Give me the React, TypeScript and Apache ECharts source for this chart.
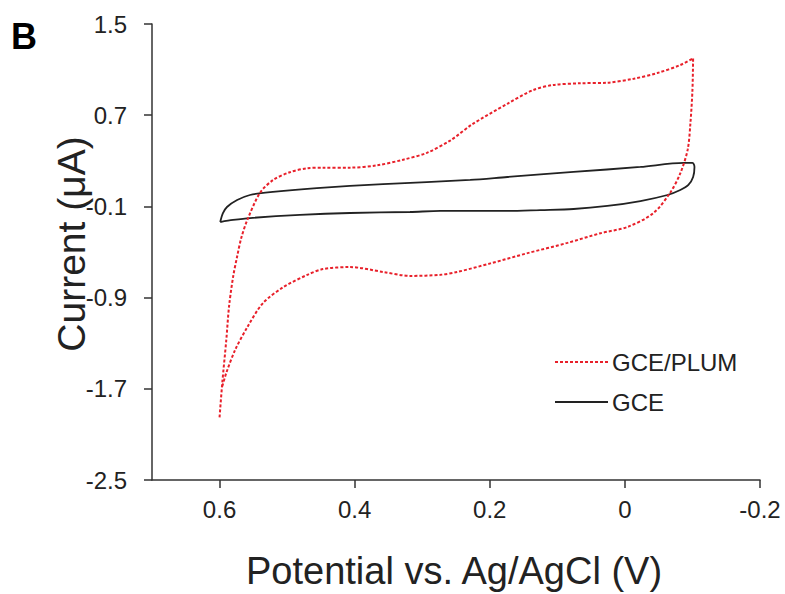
import React, { useEffect, useRef } from "react";
import * as echarts from "echarts";

// GCE/PLUM cyclic voltammogram (x: potential V, y: current µA)
const plumCurve: [number, number][] = [
  [0.6, -1.95], [0.596, -1.65], [0.59, -1.27], [0.586, -0.98], [0.58, -0.72],
  [0.574, -0.54], [0.568, -0.38], [0.559, -0.22], [0.54, 0.02], [0.521, 0.13],
  [0.496, 0.2], [0.47, 0.235], [0.447, 0.24], [0.407, 0.24], [0.367, 0.26],
  [0.328, 0.31], [0.293, 0.37], [0.258, 0.48], [0.226, 0.62], [0.174, 0.8],
  [0.136, 0.92], [0.106, 0.965], [0.066, 0.98], [0.026, 0.985], [-0.013, 1.02],
  [-0.048, 1.07], [-0.082, 1.14], [-0.101, 1.2],
  [-0.1, 0.92], [-0.097, 0.63], [-0.093, 0.4], [-0.082, 0.19], [-0.067, 0.02],
  [-0.042, -0.16], [-0.004, -0.28], [0.036, -0.335], [0.085, -0.42], [0.144, -0.51],
  [0.199, -0.6], [0.248, -0.675], [0.273, -0.7], [0.318, -0.71], [0.358, -0.675],
  [0.407, -0.632], [0.447, -0.65], [0.47, -0.7], [0.506, -0.81], [0.536, -0.95],
  [0.559, -1.16], [0.577, -1.36], [0.59, -1.56], [0.596, -1.68],
];

// bare GCE cyclic voltammogram
const gceCurve: [number, number][] = [
  [0.599, -0.237], [0.595, -0.16], [0.589, -0.105], [0.574, -0.044], [0.555, 0.0],
  [0.525, 0.026], [0.456, 0.061], [0.358, 0.096], [0.229, 0.132], [0.174, 0.158],
  [0.076, 0.202], [-0.023, 0.246], [-0.087, 0.281], [-0.1, 0.281], [-0.103, 0.246],
  [-0.101, 0.158], [-0.094, 0.088], [-0.082, 0.044], [-0.063, 0.0], [-0.023, -0.053],
  [0.026, -0.096], [0.076, -0.123], [0.125, -0.132], [0.174, -0.14], [0.273, -0.14],
  [0.318, -0.149], [0.407, -0.158], [0.481, -0.175], [0.555, -0.202], [0.58, -0.219],
  [0.599, -0.237],
];

const xTickValues = [0.6, 0.4, 0.2, 0, -0.2];
const yTickValues = [-2.5, -1.7, -0.9, -0.1, 0.7, 1.5];
const seriesNames = ["GCE/PLUM", "GCE"];

const FONT = '"Liberation Sans", Arial, sans-serif';
const RED = "#e8202a";
const DARK = "#222222";

const fmt = (v: number) => (Math.abs(v) < 1e-9 ? "0" : v.toFixed(1));

export default function App() {
  const ref = useRef<HTMLDivElement>(null);
  useEffect(() => {
    document.body.style.margin = "0";
    if (!ref.current) return;
    const chart = echarts.init(ref.current, null, { renderer: "svg" });
    chart.setOption({
      animation: false,
      backgroundColor: "#ffffff",
      grid: { left: 152, right: 25, top: 24, bottom: 114 },
      xAxis: {
        type: "value",
        min: -0.2,
        max: 0.7,
        inverse: true,
        splitLine: { show: false },
        axisLine: { show: true, onZero: false, lineStyle: { color: "#333", width: 1.5 } },
        axisTick: { show: true, inside: false, length: 8, customValues: xTickValues, lineStyle: { color: "#333", width: 1.5 } },
        axisLabel: {
          customValues: xTickValues,
          formatter: (v: number) => fmt(v),
          fontFamily: FONT,
          fontSize: 24,
          color: DARK,
          margin: 17,
        },
      },
      yAxis: {
        type: "value",
        min: -2.5,
        max: 1.5,
        splitLine: { show: false },
        axisLine: { show: true, onZero: false, lineStyle: { color: "#333", width: 1.5 } },
        axisTick: { show: true, inside: false, length: 8, customValues: yTickValues, lineStyle: { color: "#333", width: 1.5 } },
        axisLabel: {
          customValues: yTickValues,
          formatter: (v: number) => fmt(v),
          fontFamily: FONT,
          fontSize: 24,
          color: DARK,
          margin: 25,
        },
      },
      series: [
        {
          name: seriesNames[0],
          type: "line",
          data: plumCurve,
          showSymbol: false,
          symbol: "none",
          smooth: 0.3,
          lineStyle: { color: RED, width: 2, type: [3, 2] },
          z: 3,
        },
        {
          name: seriesNames[1],
          type: "line",
          data: gceCurve,
          showSymbol: false,
          symbol: "none",
          smooth: 0.3,
          lineStyle: { color: DARK, width: 1.8 },
          z: 2,
        },
      ],
      graphic: [
        {
          type: "text",
          x: 11,
          y: 36,
          style: { text: "B", fontFamily: FONT, fontSize: 36, fontWeight: "bold", fill: "#000", align: "left", verticalAlign: "middle" },
        },
        {
          type: "text",
          x: 71,
          y: 244,
          rotation: Math.PI / 2,
          style: { text: "Current (μA)", fontFamily: FONT, fontSize: 39, fill: DARK, align: "center", verticalAlign: "middle" },
          z: 10,
        },
        {
          type: "text",
          x: 454,
          y: 571,
          style: { text: "Potential vs. Ag/AgCl (V)", fontFamily: FONT, fontSize: 38, fill: DARK, align: "center", verticalAlign: "middle" },
        },
        {
          type: "line",
          shape: { x1: 555, y1: 362, x2: 610, y2: 362 },
          style: { stroke: RED, lineWidth: 2, lineDash: [3, 2] },
        },
        {
          type: "text",
          x: 612,
          y: 362,
          style: { text: seriesNames[0], fontFamily: FONT, fontSize: 24, fill: DARK, align: "left", verticalAlign: "middle" },
        },
        {
          type: "line",
          shape: { x1: 555, y1: 402, x2: 608, y2: 402 },
          style: { stroke: DARK, lineWidth: 1.8 },
        },
        {
          type: "text",
          x: 612,
          y: 402,
          style: { text: seriesNames[1], fontFamily: FONT, fontSize: 24, fill: DARK, align: "left", verticalAlign: "middle" },
        },
      ],
    });
    return () => chart.dispose();
  }, []);
  return <div ref={ref} style={{ width: 785, height: 594 }} />;
}
